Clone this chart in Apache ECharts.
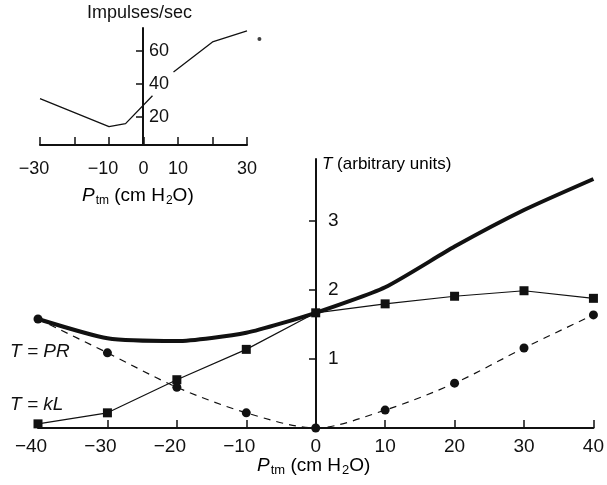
<!DOCTYPE html>
<html>
<head>
<meta charset="utf-8">
<script src="https://cdn.jsdelivr.net/npm/echarts@6/dist/echarts.min.js"></script>
<style>
  html, body { margin: 0; padding: 0; background: #fff; }
  #chart { width: 607px; height: 485px; }
</style>
</head>
<body>
<div id="chart"></div>
<script>
// main chart: tension vs transmural pressure
var pressure = [-40, -30, -20, -10, 0, 10, 20, 30, 40];
var tTotal = [1.58, 1.30, 1.26, 1.38, 1.67, 2.04, 2.63, 3.16, 3.61];
var tKL = [0.06, 0.22, 0.70, 1.14, 1.67, 1.80, 1.91, 1.99, 1.88];
var tPR = [1.58, 1.09, 0.59, 0.22, 0, 0.26, 0.65, 1.16, 1.64];
var mainYTicks = [1, 2, 3];

// inset: impulse rate vs pressure ('-' marks the gap in the trace)
var insetP = [-30, -10, -5.2, 2.6, 5, 8.7, 20, 30];
var insetRate = [31, 14.1, 15.9, 32.7, '-', 47.1, 65.2, 71.8];
var insetDot = [33.6, 67];
var insetXLabels = [-30, -10, 0, 10, 30];
var insetXTicks = [-30, -20, -10, 0, 10, 20, 30];
var insetYTicks = [20, 40, 60];

var font = 'Liberation Sans';
var ink = '#111';

// negative labels: digits sit on the tick, the minus sign hangs to the left
function minusLabel(v) {
  return v < 0 ? '{neg|\u2212' + (-v) + '}' : String(v);
}
function pairs(xs, ys) {
  return xs.map(function (x, i) { return [x, ys[i]]; });
}

var chart = echarts.init(document.getElementById('chart'));

function ptmRich(size, subSize) {
  return {
    i: { fontStyle: 'italic', fontSize: size, fontFamily: font, color: ink },
    sub: { fontSize: subSize, fontFamily: font, color: ink, padding: [10, 0, 0, 1] },
    n: { fontSize: size, fontFamily: font, color: ink }
  };
}

// the y axes sit on x = 0, so each gets its own grid starting there
var mainTop = 159, mainBottom = 57;
var insetTop = 28, insetBottom = 340;

var option = {
  backgroundColor: '#fff',
  animation: false,
  grid: [
    { left: 38, right: 13, top: mainTop, bottom: mainBottom },
    { left: 40, right: 360, top: insetTop, bottom: insetBottom },
    { left: 316, right: 13, top: mainTop, bottom: mainBottom },
    { left: 143, right: 360, top: insetTop, bottom: insetBottom }
  ],
  xAxis: [
    {
      type: 'value', gridIndex: 0, min: -40, max: 40, interval: 10,
      axisLine: { onZero: false, lineStyle: { color: ink, width: 2 } },
      axisTick: { inside: true, length: 8, lineStyle: { color: ink, width: 1.5 } },
      axisLabel: {
        color: ink, fontSize: 19, fontFamily: font, margin: 9, formatter: minusLabel,
        rich: { neg: { fontSize: 19, fontFamily: font, color: ink, padding: [0, 14, 0, 0] } }
      },
      splitLine: { show: false }
    },
    {
      type: 'value', gridIndex: 1, min: -30, max: 30,
      axisLine: { onZero: false, lineStyle: { color: ink, width: 2 } },
      axisTick: { inside: true, length: 8, customValues: insetXTicks, lineStyle: { color: ink, width: 1.5 } },
      axisLabel: {
        color: ink, fontSize: 18, fontFamily: font, margin: 15, customValues: insetXLabels, formatter: minusLabel,
        rich: { neg: { fontSize: 18, fontFamily: font, color: ink, padding: [0, 12, 0, 0] } }
      },
      splitLine: { show: false }
    },
    { type: 'value', gridIndex: 2, show: false, min: 0, max: 1 },
    { type: 'value', gridIndex: 3, show: false, min: 0, max: 1 }
  ],
  yAxis: [
    { type: 'value', gridIndex: 0, min: 0, max: 3.9, show: false },
    { type: 'value', gridIndex: 1, min: 3, max: 73.6, show: false },
    {
      type: 'value', gridIndex: 2, min: 0, max: 3.9,
      axisLine: { onZero: false, lineStyle: { color: ink, width: 2 } },
      axisTick: { length: 7, customValues: mainYTicks, lineStyle: { color: ink, width: 1.5 } },
      axisLabel: { inside: true, margin: 12, color: ink, fontSize: 19, fontFamily: font, customValues: mainYTicks },
      splitLine: { show: false }
    },
    {
      type: 'value', gridIndex: 3, min: 3, max: 73.6,
      axisLine: { onZero: false, lineStyle: { color: ink, width: 2 } },
      axisTick: { length: 7, customValues: insetYTicks, lineStyle: { color: ink, width: 1.5 } },
      axisLabel: { inside: true, margin: 6, color: ink, fontSize: 18, fontFamily: font, customValues: insetYTicks },
      splitLine: { show: false }
    }
  ],
  series: [
    {
      name: 'T', type: 'line', xAxisIndex: 0, yAxisIndex: 0,
      data: pairs(pressure, tTotal), smooth: 0.2,
      showSymbol: false, symbol: 'none',
      lineStyle: { color: ink, width: 4 }, z: 3
    },
    {
      name: 'T = kL', type: 'line', xAxisIndex: 0, yAxisIndex: 0,
      data: pairs(pressure, tKL),
      symbol: 'rect', symbolSize: 9,
      itemStyle: { color: ink },
      lineStyle: { color: ink, width: 1.2 }, z: 4
    },
    {
      name: 'T = PR', type: 'line', xAxisIndex: 0, yAxisIndex: 0,
      data: pairs(pressure, tPR), smooth: 0.3,
      symbol: 'circle', symbolSize: 9,
      itemStyle: { color: ink },
      lineStyle: { color: ink, width: 1.2, type: [7, 6] }, z: 4
    },
    {
      name: 'Impulses', type: 'line', xAxisIndex: 1, yAxisIndex: 1,
      data: pairs(insetP, insetRate), connectNulls: false,
      symbol: 'none', lineStyle: { color: ink, width: 1.3 }
    },
    {
      name: 'dot', type: 'scatter', xAxisIndex: 1, yAxisIndex: 1,
      data: [insetDot], symbolSize: 4, clip: false,
      itemStyle: { color: ink }
    }
  ],
  graphic: [
    {
      type: 'text', left: 87, top: 4,
      style: { text: 'Impulses/sec', fontSize: 18, fontFamily: font, fill: ink }
    },
    {
      type: 'text', left: 82, top: 186,
      style: { text: '{i|P}{sub|tm}{n| (cm H}{sub|2}{n|O)}', rich: ptmRich(19, 12) }
    },
    {
      type: 'text', left: 257, top: 456,
      style: { text: '{i|P}{sub|tm}{n| (cm H}{sub|2}{n|O)}', rich: ptmRich(19, 13) }
    },
    {
      type: 'text', left: 322, top: 156,
      style: {
        text: '{i|T}{n| (arbitrary units)}',
        rich: {
          i: { fontStyle: 'italic', fontSize: 17, fontFamily: font, color: ink },
          n: { fontSize: 17, fontFamily: font, color: ink }
        }
      }
    },
    {
      type: 'text', left: 10, top: 342,
      style: { text: 'T = PR', fontStyle: 'italic', fontSize: 19, fontFamily: font, fill: ink }
    },
    {
      type: 'text', left: 10, top: 395,
      style: { text: 'T = kL', fontStyle: 'italic', fontSize: 19, fontFamily: font, fill: ink }
    }
  ]
};

chart.setOption(option);
</script>
</body>
</html>
